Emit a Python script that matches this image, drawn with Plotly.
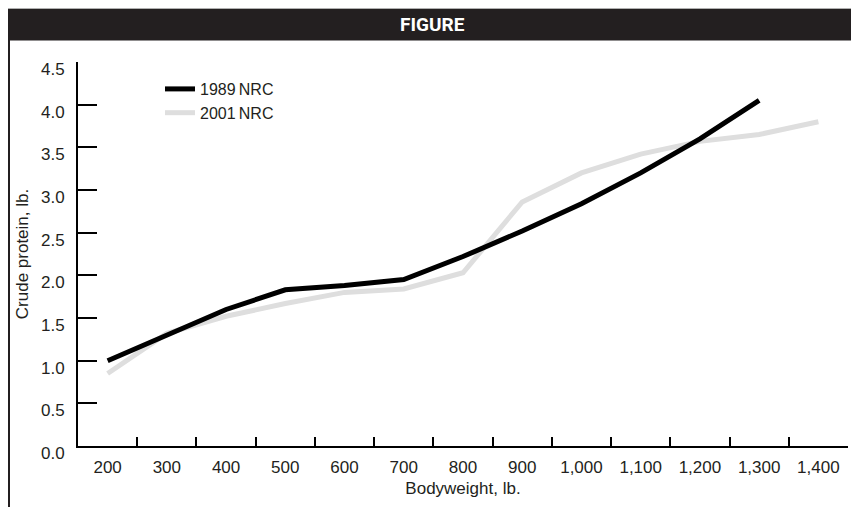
import plotly.graph_objects as go

# ---- data ----
bodyweight = ["200", "300", "400", "500", "600", "700", "800", "900",
              "1,000", "1,100", "1,200", "1,300", "1,400"]
nrc1989 = [1.0, 1.3, 1.6, 1.83, 1.88, 1.95, 2.22, 2.52, 2.84, 3.2, 3.6, 4.05]
nrc2001 = [0.85, 1.32, 1.52, 1.67, 1.8, 1.84, 2.03, 2.86, 3.2, 3.42, 3.57, 3.65, 3.80]
y_ticks = [0.0, 0.5, 1.0, 1.5, 2.0, 2.5, 3.0, 3.5, 4.0, 4.5]
y_tick_text = ["0.0", "0.5", "1.0", "1.5", "2.0", "2.5", "3.0", "3.5", "4.0", "4.5"]

# page has an 8px body margin: figure pixel = page pixel - 8
OFF = 8
W, H = 859 - OFF, 507 - OFF
PL, PR, PT, PB = 78, 848, 62, 446          # plot area in page pixels
ML, MT = PL - OFF, PT - OFF
MR, MB = W - (PR - OFF), H - (PB - OFF)
PW, PH = PR - PL, PB - PT


def px(page_x):
    return (page_x - PL) / PW


def py(page_y):
    return (PB - page_y) / PH


TEXT = "#231f20"
FONT = "Liberation Sans, Arial, Helvetica, sans-serif"
FS = 17

fig = go.Figure()
fig.add_trace(go.Scatter(x=bodyweight[:len(nrc2001)], y=nrc2001, mode="lines",
                         name="2001\u2009NRC",
                         line=dict(color="#dedede", width=5)))
fig.add_trace(go.Scatter(x=bodyweight[:len(nrc1989)], y=nrc1989, mode="lines",
                         name="1989\u2009NRC",
                         line=dict(color="#000000", width=5)))

fig.update_layout(
    width=W, height=H,
    margin=dict(l=ML, r=MR, t=MT, b=MB, autoexpand=False),
    paper_bgcolor="white", plot_bgcolor="white",
    font=dict(family=FONT, size=FS, color=TEXT),
    showlegend=True,
    legend=dict(x=px(160), y=py(72), xanchor="left", yanchor="top",
                traceorder="reversed", bgcolor="rgba(0,0,0,0)",
                font=dict(size=16, color=TEXT), itemwidth=30,
                tracegroupgap=0),
    xaxis=dict(type="category", categoryorder="array", categoryarray=bodyweight,
               range=[-0.5, len(bodyweight) - 0.5],
               tickson="boundaries", ticks="inside", ticklen=9, tickwidth=2,
               tickcolor="black", showline=True, linewidth=2, linecolor="black",
               showgrid=False, zeroline=False, ticklabelstandoff=5,
               tickfont=dict(size=FS, color=TEXT),
               title=dict(text="Bodyweight, lb.", font=dict(size=FS, color=TEXT),
                          standoff=6)),
    yaxis=dict(range=[0, 4.5], tickvals=y_ticks, ticktext=y_tick_text,
               ticklabelshift=7,
               ticks="inside", ticklen=19, tickwidth=2, tickcolor="black",
               showline=True, linewidth=2, linecolor="black",
               showgrid=False, zeroline=False, ticklabelstandoff=8,
               tickfont=dict(size=FS, color=TEXT),
               title=dict(text="Crude protein, lb.", font=dict(size=FS, color=TEXT),
                          standoff=8)),
    shapes=[
        dict(type="line", xref="paper", yref="paper", x0=px(5), x1=px(870),
             y0=py(8.5), y1=py(8.5), line=dict(color="#b0b0b0", width=1)),
        dict(type="rect", xref="paper", yref="paper", x0=px(5), x1=px(870),
             y0=py(9), y1=py(40.5), fillcolor="#231f20", line=dict(width=0),
             layer="above"),
        dict(type="line", xref="paper", yref="paper", x0=px(9), x1=px(9),
             y0=py(40), y1=py(520), line=dict(color="#231f20", width=2)),
    ],
    annotations=[
        dict(text="<b>FIGURE</b>", xref="paper", yref="paper", x=px(432), y=py(25),
             xanchor="center", yanchor="middle", showarrow=False,
             font=dict(family="Roboto, Liberation Sans, sans-serif",
                       size=19, color="white")),
    ],
)

fig.write_html("out.html")
